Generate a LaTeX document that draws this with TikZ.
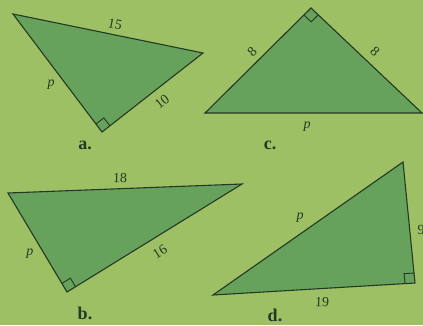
\documentclass[tikz,border=0pt]{standalone}
\usepackage{fontspec}
\setmainfont{Liberation Serif}
\usetikzlibrary{calc}
\definecolor{pagegreen}{RGB}{158,192,100}
\definecolor{trigreen}{RGB}{102,162,92}
\definecolor{inkgreen}{RGB}{36,56,36}
\tikzset{
  tri/.style={draw=inkgreen, fill=trigreen, line width=1.1pt, line join=miter},
  sidelabel/.style={font=\fontsize{14}{16}\selectfont, text=inkgreen, inner sep=1pt},
  partlabel/.style={font=\fontsize{18}{20}\selectfont\bfseries, text=inkgreen, inner sep=1pt},
  rmark/.style={draw=inkgreen, line width=0.9pt}
}
\newcommand{\squaremark}[3]{%
  \coordinate (#2u) at ($(#2)!10pt!(#1)$);
  \coordinate (#2v) at ($(#2)!10pt!(#3)$);
  \draw[rmark] (#2u) -- ($(#2u)+(#2v)-(#2)$) -- (#2v);
}

\begin{document}
\begin{tikzpicture}[x=1pt, y=-1pt]
    \useasboundingbox (0,0) rectangle (423,325);
    \fill[pagegreen] (0,0) rectangle (423,325);

    % a.
    \coordinate (aA) at (13,14);
    \coordinate (aB) at (203,53);
    \coordinate (aC) at (102,132);
    \draw[tri] (aA) -- (aB) -- (aC) -- cycle;
    \squaremark{aA}{aC}{aB}
    \node[sidelabel, rotate=-12] (a15) at (115,24) {15};
    \node[sidelabel] (ap) at (51,85) {\textit{p}};
    \node[sidelabel, rotate=38] (a10) at (162,102) {10};
    \node[partlabel] (alab) at (85,145) {a.};

    % c.
    \coordinate (cA) at (311,8);
    \coordinate (cB) at (205,113);
    \coordinate (cC) at (422,113);
    \draw[tri] (cA) -- (cB) -- (cC) -- cycle;
    \squaremark{cB}{cA}{cC}
    \node[sidelabel, rotate=45] (c8l) at (252,52) {8};
    \node[sidelabel, rotate=-43] (c8r) at (375,52) {8};
    \node[sidelabel] (cp) at (307,127) {\textit{p}};
    \node[partlabel] (clab) at (270,145) {c.};

    % b.
    \coordinate (bA) at (8,193);
    \coordinate (bB) at (242,184);
    \coordinate (bC) at (67,292);
    \draw[tri] (bA) -- (bB) -- (bC) -- cycle;
    \squaremark{bA}{bC}{bB}
    \node[sidelabel, rotate=-2] (b18) at (120,178) {18};
    \node[sidelabel] (bp) at (30,254) {\textit{p}};
    \node[sidelabel, rotate=32] (b16) at (160,252) {16};
    \node[partlabel] (blab) at (85,313) {b.};

    % d.
    \coordinate (dA) at (403,162);
    \coordinate (dB) at (213,295);
    \coordinate (dC) at (415,283);
    \draw[tri] (dA) -- (dB) -- (dC) -- cycle;
    \squaremark{dA}{dC}{dB}
    \node[sidelabel] (dp) at (300,218) {\textit{p}};
    \node[sidelabel] (d9) at (421,230) {9};
    \node[sidelabel, rotate=-3] (d19) at (322,302) {19};
    \node[partlabel] (dlab) at (275,315) {d.};
\end{tikzpicture}
\end{document}
